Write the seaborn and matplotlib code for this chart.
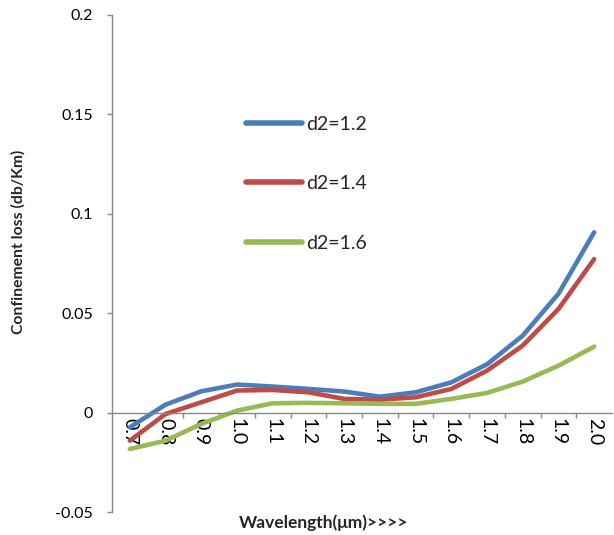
import numpy as np
import pandas as pd
import seaborn as sns
import matplotlib
matplotlib.use("Agg")
import matplotlib.pyplot as plt
from matplotlib.ticker import FixedLocator, FuncFormatter

wavelengths = ["0.7", "0.8", "0.9", "1.0", "1.1", "1.2", "1.3", "1.4", "1.5", "1.6", "1.7", "1.8", "1.9", "2.0"]
d2_12 = [-0.0074, 0.0040, 0.0107, 0.0141, 0.0131, 0.0119, 0.0106, 0.0080, 0.0102, 0.0152, 0.0243, 0.0387, 0.0598, 0.0907]
d2_14 = [-0.0141, -0.0007, 0.0052, 0.0111, 0.0114, 0.0102, 0.0069, 0.0065, 0.0077, 0.0119, 0.0211, 0.0337, 0.0521, 0.0772]
d2_16 = [-0.0183, -0.0141, -0.0057, 0.0010, 0.0047, 0.0049, 0.0047, 0.0044, 0.0044, 0.0069, 0.0099, 0.0156, 0.0236, 0.0332]
series_names = ["d2=1.2", "d2=1.4", "d2=1.6"]
colors = ["#4A7EBB", "#BE4B48", "#98B954"]
y_ticks = [-0.05, 0, 0.05, 0.1, 0.15, 0.2]

sns.set_theme(style="white")
plt.rcParams['font.family'] = ['Lato', 'DejaVu Sans']

rows = []
for name, vals in zip(series_names, [d2_12, d2_14, d2_16]):
    for i, (w, v) in enumerate(zip(wavelengths, vals)):
        rows.append({"idx": i, "wavelength": w, "loss": v, "series": name})
df = pd.DataFrame(rows)

fig = plt.figure(figsize=(6.14, 5.35), dpi=100)
ax = fig.add_axes([112/614, 23/535, 500/614, 497/535])

sns.lineplot(data=df, x="idx", y="loss", hue="series", palette=colors,
             linewidth=3.3, ax=ax, legend=True, solid_capstyle="round")

ax.set_xlim(-0.5, len(wavelengths) - 0.5)
ax.set_ylim(-0.05, 0.2)

# spines
for s in ["top", "right"]:
    ax.spines[s].set_visible(False)
ax.spines["left"].set_color("#888888")
ax.spines["bottom"].set_color("#888888")
ax.spines["bottom"].set_position(("data", 0))
ax.spines["left"].set_linewidth(1.0)
ax.spines["bottom"].set_linewidth(1.0)

ax.yaxis.set_major_locator(FixedLocator(y_ticks))
ax.yaxis.set_major_formatter(FuncFormatter(lambda v, p: "%g" % round(v, 3)))
ax.tick_params(axis="y", which="major", direction="out", length=3.6, width=1,
               color="#888888", left=True, labelsize=11.5, pad=10, labelcolor="black")

ax.set_xticks(range(len(wavelengths)))
ax.set_xticklabels(wavelengths, rotation=-90, fontsize=14)
ax.set_xticks(np.arange(0.5, len(wavelengths) - 0.5, 1), minor=True)
ax.tick_params(axis="x", which="major", length=0, pad=4, bottom=True, labelcolor="black")
ax.tick_params(axis="x", which="minor", direction="out", length=3.6, width=1,
               color="#888888", bottom=True)
for lbl in ax.get_xticklabels():
    lbl.set_verticalalignment("top")
    lbl.set_horizontalalignment("center")

ax.set_xlabel("")
ax.set_ylabel("")
ax.grid(False)

fig.text(18/614, 1 - 242/535, "Confinement loss (db/Km)", rotation=90, fontsize=11.3,
         fontweight="bold", ha="center", va="center")
fig.text(324/614, 1 - 523/535, "Wavelength(\u03bcm)>>>>", fontsize=12.5,
         fontweight="bold", ha="center", va="center")

leg = ax.legend(loc="upper left", bbox_to_anchor=(228/614, 1 - 98/535),
                bbox_transform=fig.transFigure, frameon=False, fontsize=14,
                handlelength=2.9, handletextpad=0.2, labelspacing=2.2)
for line in leg.get_lines():
    line.set_linewidth(4)
    line.set_solid_capstyle("round")

fig.savefig("out.png", dpi=100)
